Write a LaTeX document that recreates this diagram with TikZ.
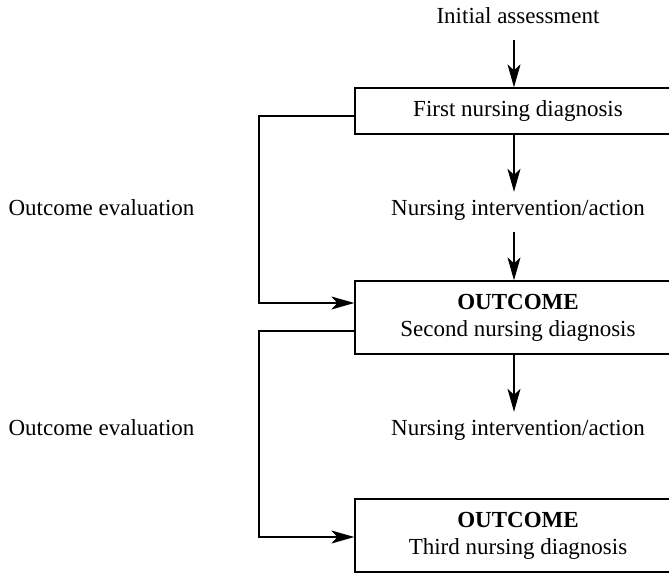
\documentclass[tikz,border=0pt]{standalone}
\usepackage{fontspec}
\setmainfont{Liberation Serif}
\usetikzlibrary{arrows.meta}
\begin{document}
\begin{tikzpicture}[x=1pt,y=-1pt,
  font=\fontsize{23}{27}\selectfont,
  lbl/.style={inner sep=0pt, text height=16pt, text depth=5pt},
  box/.style={draw, line width=1.3pt, minimum width=326pt, inner sep=0pt, align=center},
  arr/.style={line width=1.3pt, -{Stealth[length=23pt,width=13pt,inset=6pt]}}
]
\useasboundingbox (0,0) rectangle (669,574);
\node[lbl] (init) at (518,17.5) {Initial assessment};
\node[box, minimum height=46pt] (b1) at (518,111) {First nursing diagnosis};
\node[lbl] (i1) at (518,209.5) {Nursing intervention/action};
\node[lbl] (e1) at (101.5,209.5) {Outcome evaluation};
\node[box, minimum height=73pt] (b2) at (518,317.5) {\textbf{OUTCOME}\\Second nursing diagnosis};
\node[lbl] (i2) at (518,429.5) {Nursing intervention/action};
\node[lbl] (e2) at (101.5,429.5) {Outcome evaluation};
\node[box, minimum height=73pt] (b3) at (518,535.5) {\textbf{OUTCOME}\\Third nursing diagnosis};

\draw[arr] ([xshift=-4pt,yshift=-12pt]init.south) -- ([xshift=-4pt]b1.north);
\draw[arr] ([xshift=-4pt]b1.south) -- ([xshift=-4pt,yshift=7pt]i1.north);
\draw[arr] ([xshift=-4pt,yshift=-12pt]i1.south) -- ([xshift=-4pt]b2.north);
\draw[arr] ([xshift=-4pt]b2.south) -- ([xshift=-4pt,yshift=7pt]i2.north);

\coordinate (l1a) at (259,116);
\coordinate (l1b) at (259,303);
\draw[arr] (b1.west |- l1a) -- (l1a) -- (l1b) -- (b2.west |- l1b);
\coordinate (l2a) at (259,331);
\coordinate (l2b) at (259,537);
\draw[arr] (b2.west |- l2a) -- (l2a) -- (l2b) -- (b3.west |- l2b);
\end{tikzpicture}
\end{document}
